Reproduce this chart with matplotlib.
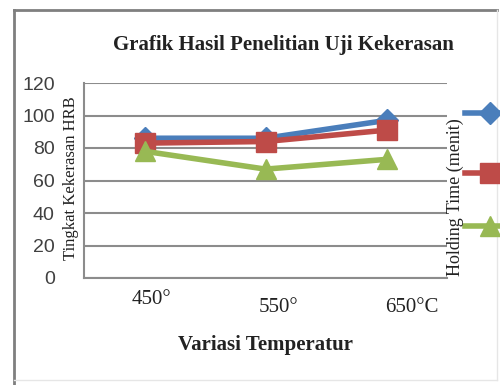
import matplotlib
matplotlib.use("Agg")
import matplotlib.pyplot as plt
from matplotlib.lines import Line2D

categories = ["450°", "550°", "650°C"]
series_names = ["Holding 1", "Holding 2", "Holding 3"]
blue_vals = [86, 86, 97]
red_vals = [83, 84, 91]
green_vals = [78, 67, 73]

title = "Grafik Hasil Penelitian Uji Kekerasan"
xlabel = "Variasi Temperatur"
ylabel = "Tingkat Kekerasan HRB"
legend_title = "Holding Time (menit)"
yticks = [0, 20, 40, 60, 80, 100, 120]

colors = ["#4A7EBB", "#BE4B48", "#98B954"]
markers = ["D", "s", "^"]
msizes = [11, 14, 14]

fig = plt.figure(figsize=(5, 3.85), dpi=100)
fig.patch.set_facecolor("white")

# outer border
fig.add_artist(Line2D([14/500, 14/500], [0, 1-10/385], transform=fig.transFigure, color="#7f7f7f", lw=2))
fig.add_artist(Line2D([14/500, 497/500], [1-10/385, 1-10/385], transform=fig.transFigure, color="#7f7f7f", lw=2))
fig.add_artist(Line2D([497/500, 497/500], [1-10/385, 1-380/385], transform=fig.transFigure, color="#e6e6e6", lw=1))
fig.add_artist(Line2D([14/500, 497/500], [1-380/385, 1-380/385], transform=fig.transFigure, color="#e6e6e6", lw=1))

ax = fig.add_axes([84/500, 1-278/385, (447-84)/500, (278-83)/385])
ax.set_xlim(-0.5, 2.5)
ax.set_ylim(0, 120)
ax.set_yticks(yticks)
ax.set_yticklabels([str(v) for v in yticks], fontsize=14, family="Liberation Sans", color="#404040")
ax.tick_params(axis="y", length=0, pad=21)
ax.set_xticks(range(len(categories)))
ax.set_xticklabels([])
ax.tick_params(axis="x", length=0)
ax.grid(axis="y", color="#8c8c8c", lw=1.5)
ax.set_axisbelow(True)
for s in ["top", "right"]:
    ax.spines[s].set_visible(False)
ax.spines["left"].set_color("#8c8c8c")
ax.spines["left"].set_linewidth(1.5)
ax.spines["bottom"].set_color("#8c8c8c")
ax.spines["bottom"].set_linewidth(1.5)

x = list(range(len(categories)))
for vals, c, m, ms, n in zip([blue_vals, red_vals, green_vals], colors, markers, msizes, series_names):
    ax.plot(x, vals, color=c, lw=4, marker=m, markersize=ms, label=n, clip_on=False)

# x tick labels (slightly offset as in reference)
label_pos = [(151, 300), (278, 308), (412, 308)]
for lab, (px, py) in zip(categories, label_pos):
    fig.text(px/500, 1-py/385, lab, ha="center", va="center",
             fontsize=15, family="Liberation Serif", color="#222222")

fig.text(283/500, 1-45/385, title, ha="center", va="center", fontsize=15,
         fontweight="bold", family="Liberation Serif", color="#222222")
fig.text(265/500, 1-345/385, xlabel, ha="center", va="center", fontsize=15,
         fontweight="bold", family="Liberation Serif", color="#222222")
fig.text(71/500, 1-178/385, ylabel, ha="center", va="center", rotation=90,
         fontsize=12, family="Liberation Serif", color="#222222")
fig.text(455/500, 1-197/385, legend_title, ha="center", va="center", rotation=90,
         fontsize=13, family="Liberation Serif", color="#222222")

# legend entries (cut off at right edge)
leg_y = [113, 173, 226]
for yy, c, m, ms in zip(leg_y, colors, markers, msizes):
    fig.add_artist(Line2D([465/500, 505/500], [1-yy/385, 1-yy/385], transform=fig.transFigure,
                          color=c, lw=4))
    fig.add_artist(Line2D([490/500], [1-yy/385], transform=fig.transFigure, color=c,
                          marker=m, markersize=ms, lw=0))

fig.savefig("out.png", dpi=100, facecolor="white")
